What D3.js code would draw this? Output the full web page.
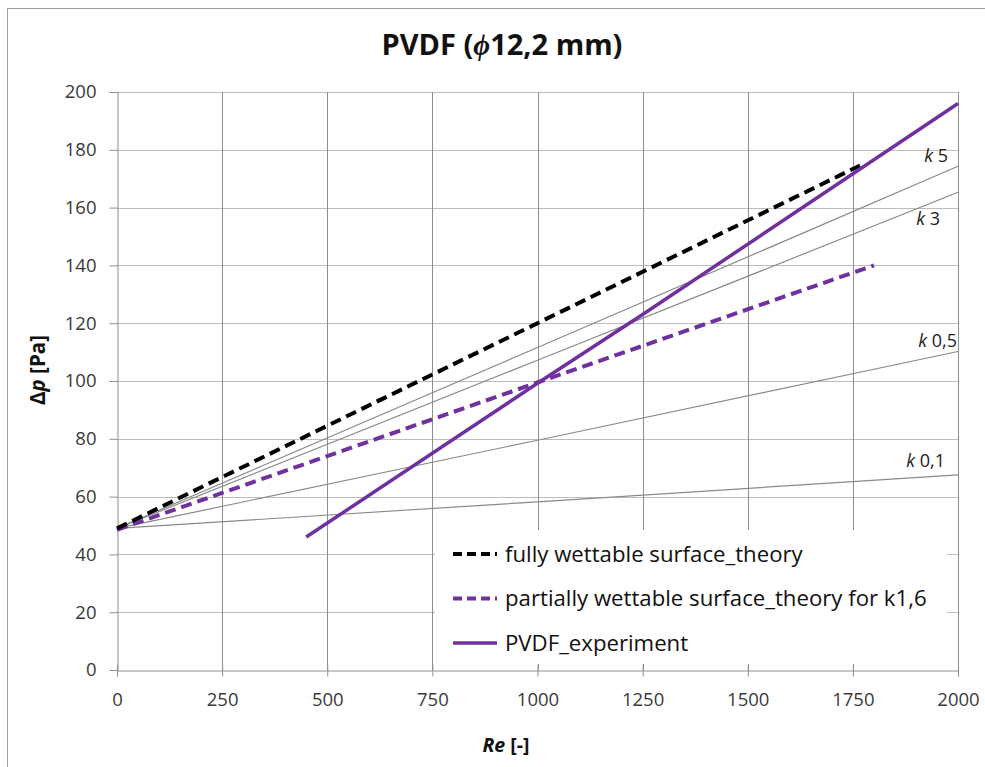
<!DOCTYPE html>
<html><head><meta charset="utf-8">
<script src="https://cdnjs.cloudflare.com/ajax/libs/d3/7.8.5/d3.min.js"></script>
<style>
html,body{margin:0;padding:0;background:#fff;}
svg{display:block;font-family:"Open Sans",Lato,sans-serif;}
</style></head>
<body>
<svg id="chart" width="985" height="767"></svg>
<script>
// ---- data ----
const xTicks = [0,250,500,750,1000,1250,1500,1750,2000];
const yTicks = [0,20,40,60,80,100,120,140,160,180,200];

const fullyRe = [0, 1000, 1780];
const fullyDp = [49, 120, 175.5];

const partialRe = [0, 1000, 1800];
const partialDp = [48.5, 99.5, 140];

const expRe = [450, 1000, 1250, 2000];
const expDp = [46, 99.2, 123, 196];

const kRe = [0, 1000, 2000];
const k5Dp = [49, 111.6, 174.3];
const k3Dp = [49, 107.2, 165.3];
const k05Dp = [49, 79.5, 110.2];
const k01Dp = [49, 58.2, 67.5];

const kLabelNum = ["5","3","0,5","0,1"];

const legendLabels = ["fully wettable surface_theory","partially wettable surface_theory for k1,6","PVDF_experiment"];

// ---- layout ----
const svg = d3.select("#chart");
const L=117, R=958, T=92, B=670;
const x = d3.scaleLinear().domain([0,2000]).range([L,R]);
const y = d3.scaleLinear().domain([0,200]).range([B,T]);
const purple = "#7030A0";
const font = "'Open Sans', sans-serif";

// outer border
svg.append("rect").attr("x",7.5).attr("y",8.5).attr("width",1000).attr("height",1000)
  .attr("fill","none").attr("stroke","#a0a0a0").attr("stroke-width",1);

// gridlines
svg.append("g").selectAll("line").data(yTicks.filter(d=>d>0)).join("line")
  .attr("x1",L).attr("x2",R).attr("y1",d=>Math.round(y(d))+0.5).attr("y2",d=>Math.round(y(d))+0.5)
  .attr("stroke","#bdbdbd").attr("stroke-width",1);
svg.append("g").selectAll("line").data(xTicks.filter(d=>d>0)).join("line")
  .attr("y1",T).attr("y2",B).attr("x1",d=>Math.round(x(d))+0.5).attr("x2",d=>Math.round(x(d))+0.5)
  .attr("stroke","#8f8f8f").attr("stroke-width",1);

// axes
const yAxis = d3.axisLeft(y).tickValues(yTicks).tickSize(8).tickPadding(13).tickFormat(d3.format("d"));
const gy = svg.append("g").attr("transform",`translate(${L+0.5},0)`).call(yAxis);
const xAxis = d3.axisBottom(x).tickValues(xTicks).tickSize(6).tickPadding(16).tickFormat(d3.format("d"));
const gx = svg.append("g").attr("transform",`translate(0,${B+0.5})`).call(xAxis);
[gx,gy].forEach(g=>{
  g.select(".domain").attr("stroke","#8f8f8f");
  g.selectAll(".tick line").attr("stroke","#8f8f8f");
  g.selectAll("text").attr("font-size",18.5).attr("fill","#3a3a3a").attr("font-family",font);
});
gx.selectAll(".tick line").attr("y1",-6);

// lines
const line = d3.line().x(d=>x(d[0])).y(d=>y(d[1]));
const kSeries = [k5Dp,k3Dp,k05Dp,k01Dp];
kSeries.forEach(s=>{
  svg.append("path").datum(kRe.map((r,i)=>[r,s[i]])).attr("d",line)
    .attr("fill","none").attr("stroke","#8a8a8a").attr("stroke-width",1.2);
});
svg.append("path").datum(partialRe.map((r,i)=>[r,partialDp[i]])).attr("d",line)
  .attr("fill","none").attr("stroke",purple).attr("stroke-width",4).attr("stroke-dasharray","11,6");
svg.append("path").datum(fullyRe.map((r,i)=>[r,fullyDp[i]])).attr("d",line)
  .attr("fill","none").attr("stroke","#000").attr("stroke-width",4).attr("stroke-dasharray","11,6");
svg.append("path").datum(expRe.map((r,i)=>[r,expDp[i]])).attr("d",line)
  .attr("fill","none").attr("stroke",purple).attr("stroke-width",3.5);

// k labels
const kPos = [[948,162],[940,225],[957,347],[945,467]];
kLabelNum.forEach((n,i)=>{
  const t = svg.append("text").attr("x",kPos[i][0]).attr("y",kPos[i][1]).attr("text-anchor","end")
    .attr("font-size",18).attr("fill","#222").attr("font-family",font);
  t.append("tspan").attr("font-style","italic").text("k");
  t.append("tspan").text("\u00a0"+n);
});

// legend
svg.append("rect").attr("x",435).attr("y",530).attr("width",512).attr("height",134).attr("fill","#fff");
const legStyles = [{c:"#000",d:"9,5",w:4},{c:purple,d:"9,5",w:4},{c:purple,d:null,w:3.5}];
legendLabels.forEach((lab,i)=>{
  const cy = 554 + i*44.5;
  const l = svg.append("line").attr("x1",453).attr("x2",497).attr("y1",cy).attr("y2",cy)
    .attr("stroke",legStyles[i].c).attr("stroke-width",legStyles[i].w);
  if(legStyles[i].d) l.attr("stroke-dasharray",legStyles[i].d);
  svg.append("text").attr("x",505).attr("y",cy+7.5).attr("font-size",22.2).attr("fill","#111")
    .attr("font-family",font).text(lab);
});

// title
const tt = svg.append("text").attr("x",502).attr("y",55).attr("text-anchor","middle")
  .attr("font-size",29).attr("font-weight","bold").attr("fill","#111").attr("font-family",font);
tt.append("tspan").text("PVDF (");
tt.append("tspan").attr("font-style","italic").attr("font-family","'Liberation Serif',serif").text("ϕ");
tt.append("tspan").text("12,2 mm)");

// y title
const yt = svg.append("text").attr("transform","translate(45,370) rotate(-90)").attr("text-anchor","middle")
  .attr("font-size",20.5).attr("font-weight","bold").attr("fill","#111").attr("font-family",font);
yt.append("tspan").text("Δ");
yt.append("tspan").attr("font-style","italic").text("p");
yt.append("tspan").text(" [Pa]");

// x title
const xt = svg.append("text").attr("x",506).attr("y",752).attr("text-anchor","middle")
  .attr("font-size",19.5).attr("font-weight","bold").attr("fill","#111").attr("font-family",font);
xt.append("tspan").attr("font-style","italic").text("Re");
xt.append("tspan").text(" [-]");
</script>
</body></html>
